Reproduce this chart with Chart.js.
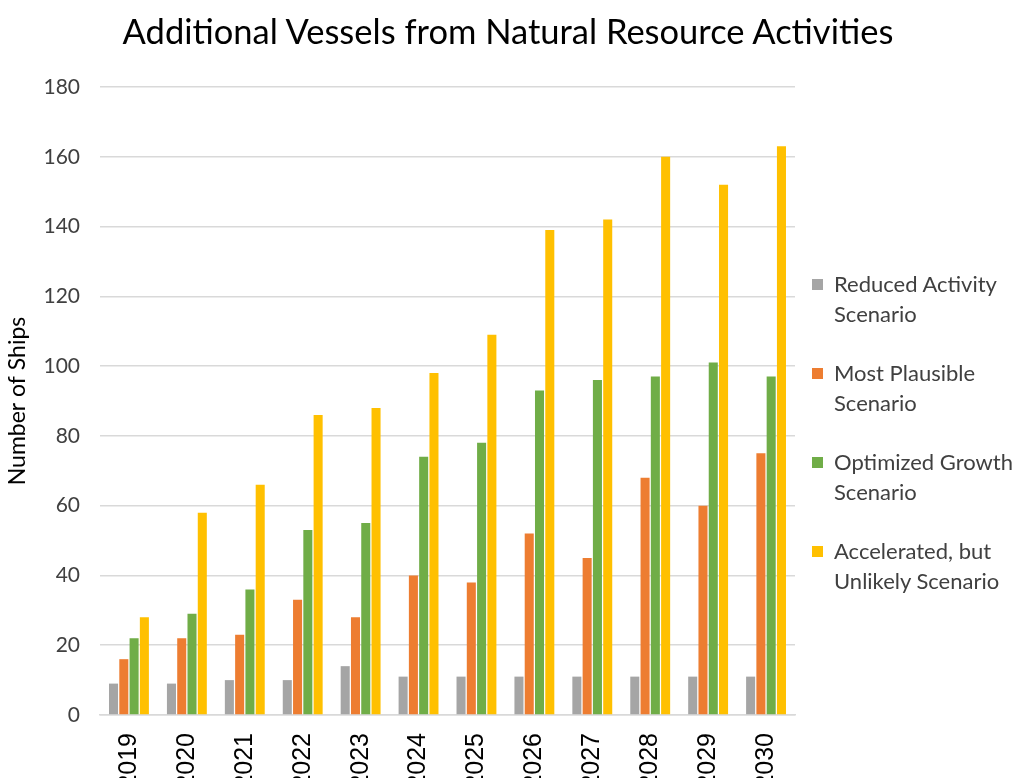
<!DOCTYPE html>
<html>
<head>
<meta charset="utf-8">
<title>Additional Vessels from Natural Resource Activities</title>
<script src="https://cdn.jsdelivr.net/npm/chart.js@4.4.1/dist/chart.umd.min.js"></script>
<style>
  html, body { margin: 0; padding: 0; background: #fff; overflow: hidden; }
  #wrap { position: relative; width: 1016px; height: 800px; }
  #title { position: absolute; left: 0; top: 9px; width: 1016px; text-align: center; font-family: Lato, "Open Sans", sans-serif; font-size: 34.5px; line-height: 44px; color: #000; }
  #legend { position: absolute; left: 812px; top: 269px; font-family: Lato, "Open Sans", sans-serif; font-size: 22px; color: #404040; }
  .item { position: relative; padding-left: 22px; line-height: 29.5px; margin-bottom: 30px; }
  .swatch { position: absolute; left: 0; top: 10px; width: 11px; height: 11px; }
</style>
</head>
<body>
<div id="wrap">
  <canvas id="chart" width="1016" height="800"></canvas>
  <div id="title">Additional Vessels from Natural Resource Activities</div>
  <div id="legend"></div>
</div>
<script>
// ── Data ──────────────────────────────────────────────────────────────────────
const years       = ['2019','2020','2021','2022','2023','2024','2025','2026','2027','2028','2029','2030'];
const reduced     = [9, 9, 10, 10, 14, 11, 11, 11, 11, 11, 11, 11];
const plausible   = [16, 22, 23, 33, 28, 40, 38, 52, 45, 68, 60, 75];
const optimized   = [22, 29, 36, 53, 55, 74, 78, 93, 96, 97, 101, 97];
const accelerated = [28, 58, 66, 86, 88, 98, 109, 139, 142, 160, 152, 163];

const seriesNames = [
  ['Reduced Activity', 'Scenario'],
  ['Most Plausible', 'Scenario'],
  ['Optimized Growth', 'Scenario'],
  ['Accelerated, but', 'Unlikely Scenario'],
];
const COLORS = ['#A5A5A5', '#ED7D31', '#70AD47', '#FFC000'];
const FONT = 'Lato, "Open Sans", sans-serif';

const datasets = [reduced, plausible, optimized, accelerated].map((d, i) => ({
  label: seriesNames[i].join(' '),
  data: d,
  backgroundColor: COLORS[i],
  borderWidth: 0,
  categoryPercentage: 0.71,
  barPercentage: 0.88,
}));

new Chart(document.getElementById('chart'), {
  type: 'bar',
  data: { labels: years, datasets },
  options: {
    responsive: false,
    animation: false,
    layout: { padding: { left: 0, right: 221, top: 87, bottom: 0 } },
    plugins: {
      legend: { display: false },
      tooltip: { enabled: false },
    },
    scales: {
      x: {
        grid: { display: false },
        border: { color: '#D9D9D9', width: 1.5 },
        afterFit: (scale) => { scale.height = 85; },
        ticks: {
          font: { family: '"Liberation Sans", Arial, sans-serif', size: 25 },
          color: '#000',
          minRotation: 90, maxRotation: 90,
          padding: 10,
        },
      },
      y: {
        min: 0, max: 180,
        afterFit: (scale) => { scale.width = 100; },
        ticks: { stepSize: 20, font: { family: FONT, size: 21 }, color: '#404040', padding: 20 },
        grid: { color: '#D9D9D9', lineWidth: 1.5, drawTicks: false },
        border: { display: false },
        title: {
          display: true,
          text: 'Number of Ships',
          font: { family: FONT, size: 23 },
          color: '#000',
          padding: { top: 4, bottom: 4 },
        },
      },
    },
  },
});

// ── Legend ────────────────────────────────────────────────────────────────────
document.getElementById('legend').innerHTML = seriesNames.map((lines, i) => `
  <div class="item"><span class="swatch" style="background:${COLORS[i]}"></span>${lines.join('<br>')}</div>`).join('');
</script>
</body>
</html>
